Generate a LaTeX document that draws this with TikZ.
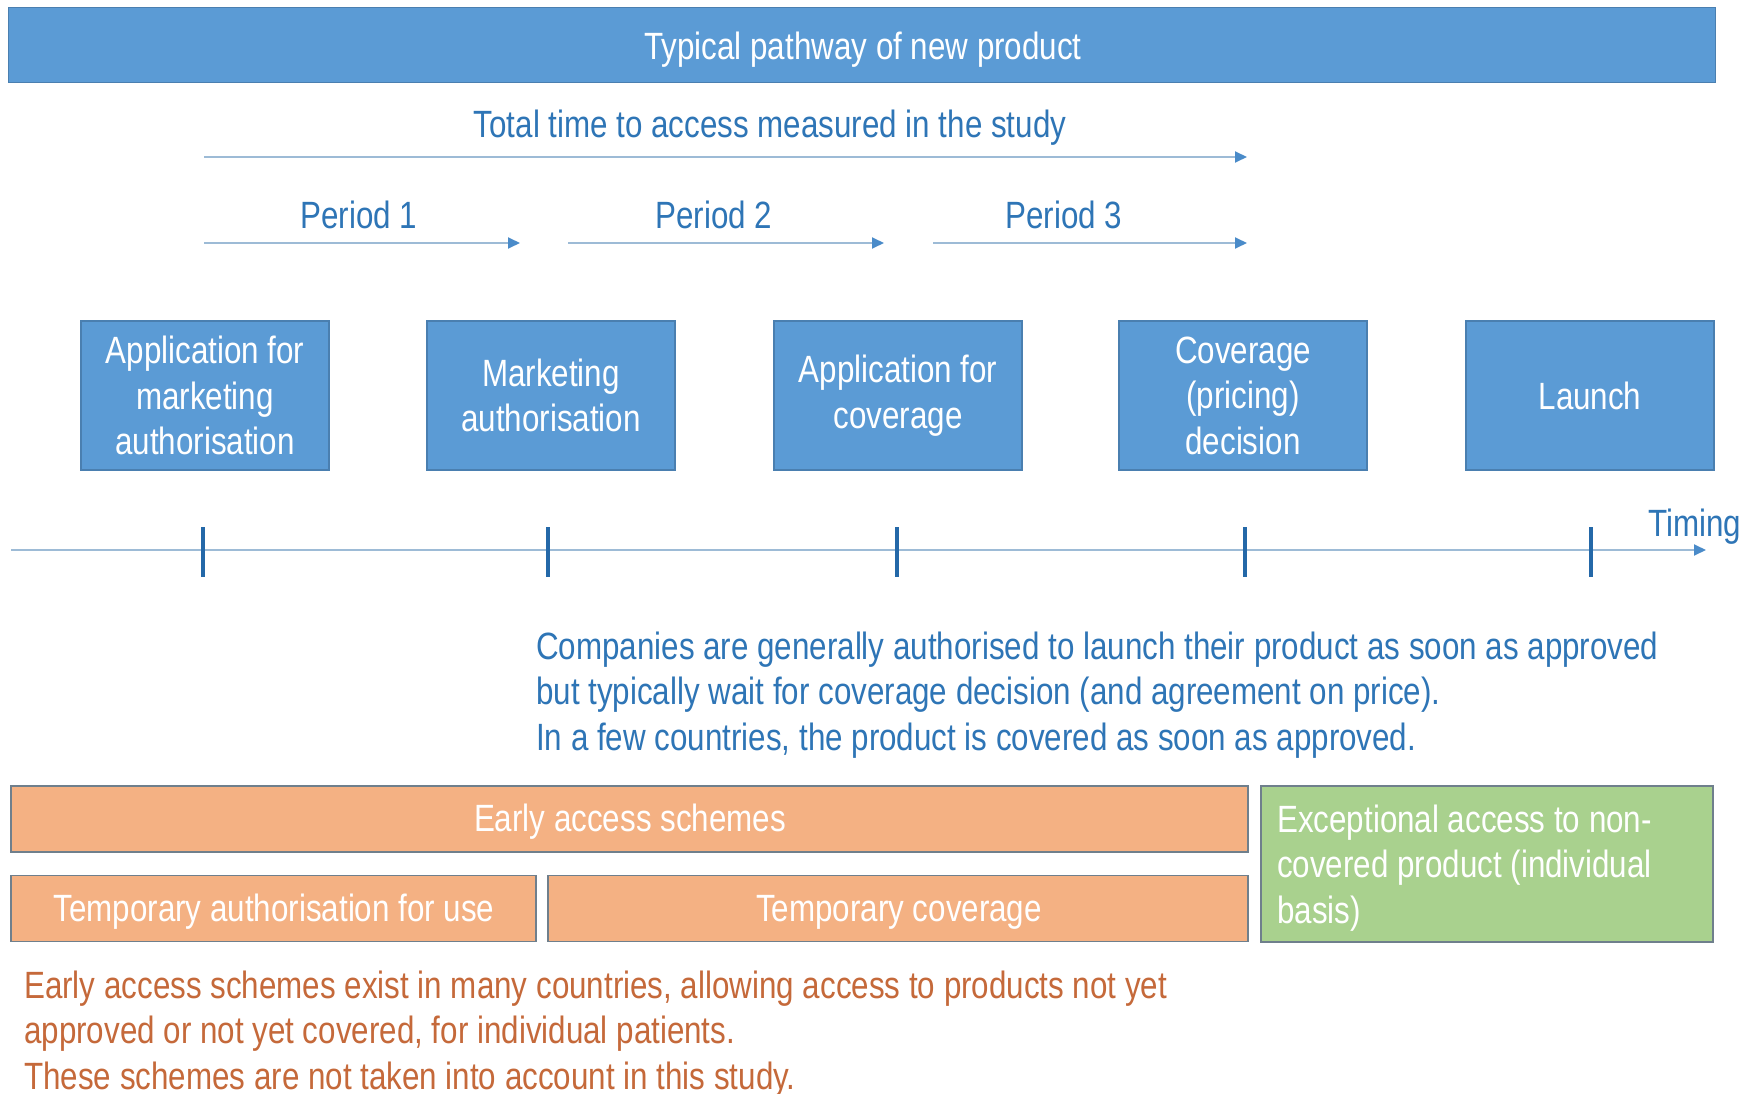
\documentclass[tikz,border=0pt]{standalone}
\usepackage{fontspec}
\setmainfont[FakeStretch=0.825]{Liberation Sans}
\usetikzlibrary{arrows.meta}
\definecolor{boxblue}{HTML}{5B9BD5}
\definecolor{boxblueline}{HTML}{4A7FB0}
\definecolor{textblue}{HTML}{2E75B6}
\definecolor{arrowblue}{HTML}{9DBBD6}
\definecolor{headblue}{HTML}{4A8BC9}
\definecolor{tickblue}{HTML}{2468A8}
\definecolor{orangefill}{HTML}{F4B183}
\definecolor{greenfill}{HTML}{A9D18E}
\definecolor{frameline}{HTML}{6F7F8C}
\definecolor{textorange}{HTML}{C5693A}
\tikzset{
  txt/.style={font=\fontsize{38}{45.5}\selectfont, inner sep=0pt},
  bluebox/.style={txt, draw=boxblueline, line width=1.2pt, fill=boxblue, text=white,
    align=center, minimum width=248pt, minimum height=149pt},
  orangebox/.style={txt, draw=frameline, line width=1.5pt, fill=orangefill, text=white,
    align=center, minimum height=66pt},
  label/.style={txt, text=textblue},
  period/.style={draw=arrowblue, line width=1.8pt,
    -{Triangle[length=12pt,width=11pt,color=headblue]}},
  tickmark/.style={draw=tickblue, line width=4pt},
}
\begin{document}
\begin{tikzpicture}[x=1pt,y=-1pt]
\useasboundingbox (0,0) rectangle (1741,1094);
\fill[white] (0,0) rectangle (1741,1094);

% title bar
\node[fill=boxblue, draw=boxblueline, line width=1pt,
  minimum width=1707pt, minimum height=75pt] (title) at (861.5,45.5) {};
\node[txt, text=white] (titletext) at (863,50) {Typical pathway of new product};

% total time and the three periods
\node[label] (total) at (770,128) {Total time to access measured in the study};
\coordinate (t0) at (204,157);
\coordinate (t1) at (1247,157);
\draw[period] (t0) -- (t1);

\node[label] (p1l) at (359,215) {Period 1};
\node[label] (p2l) at (714,215) {Period 2};
\node[label] (p3l) at (1064,215) {Period 3};
\coordinate (p1a) at (204,243);  \coordinate (p1b) at (520,243);
\coordinate (p2a) at (568,243);  \coordinate (p2b) at (884,243);
\coordinate (p3a) at (933,243);  \coordinate (p3b) at (1247,243);
\draw[period] (p1a) -- (p1b);
\draw[period] (p2a) -- (p2b);
\draw[period] (p3a) -- (p3b);

% milestones
\node[bluebox] (b1) at (205,395.5) {Application for\\marketing\\authorisation};
\node[bluebox] (b2) at (551,395.5) {Marketing\\authorisation};
\node[bluebox] (b3) at (898,395.5) {Application for\\coverage};
\node[bluebox] (b4) at (1243,395.5) {Coverage\\(pricing)\\decision};
\node[bluebox] (b5) at (1590,395.5) {Launch};

% timeline
\coordinate (tlstart) at (11,550);
\coordinate (tlend) at (1706,550);
\draw[period] (tlstart) -- (tlend);
\node[label, anchor=west] (timing) at (1648,527) {Timing};
\foreach \x in {203,548,897,1245,1591}{
  \draw[tickmark] (\x,527) -- (\x,577);
}

% note on launch timing
\node[label, anchor=west, align=left] (note) at (536,695)
  {Companies are generally authorised to launch their product as soon as approved\\
   but typically wait for coverage decision (and agreement on price).\\
   In a few countries, the product is covered as soon as approved.};

% early access schemes
\node[orangebox, minimum width=1237pt] (eas) at (629.5,819) {};
\node[txt, text=white] (eastext) at (630,822) {Early access schemes};
\node[orangebox, minimum width=525pt] (tau) at (273.5,908.5) {};
\node[txt, text=white] (tautext) at (274,912) {Temporary authorisation for use};
\node[orangebox, minimum width=700pt] (tcov) at (898,908.5) {};
\node[txt, text=white] (tcovtext) at (899,912) {Temporary coverage};
\node[draw=frameline, line width=1.5pt, fill=greenfill, minimum width=452pt, minimum height=156pt] (exc) at (1487,864) {};
\node[txt, text=white, anchor=west, align=left] (exctext) at (1277,868)
  {Exceptional access to non-\\covered product (individual\\basis)};

\node[txt, text=textorange, anchor=west, align=left] (eanote) at (24,1034)
  {Early access schemes exist in many countries, allowing access to products not yet\\
   approved or not yet covered, for individual patients.\\
   These schemes are not taken into account in this study.};
\end{tikzpicture}
\end{document}
